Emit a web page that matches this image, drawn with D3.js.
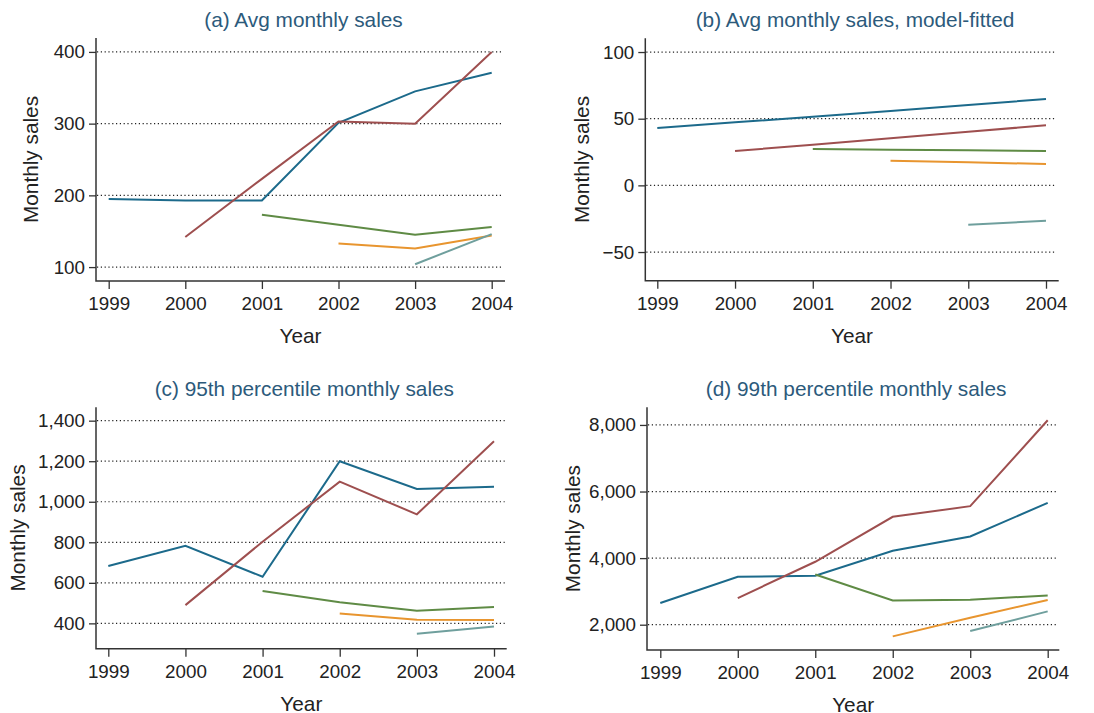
<!DOCTYPE html>
<html>
<head>
<meta charset="utf-8">
<script src="https://cdn.jsdelivr.net/npm/d3@7"></script>
<style>
  body { margin: 0; background: #fff; }
  svg { display: block; font-family: "Liberation Sans", Arial, sans-serif; }
</style>
</head>
<body>
<svg id="chart" width="1094" height="713"></svg>
<script>
const years = [1999, 2000, 2001, 2002, 2003, 2004];
const cohorts = ['1999', '2000', '2001', '2002', '2003'];
const cohortColors = ['#1c6a8b', '#9e4f4f', '#5f8b45', '#e8952f', '#6f9f9d'];

// one array per cohort (entry year), null where the cohort did not exist yet
const avgSales = [
    [195, 193, 193, 301, 345, 371],
    [null, 142, 223, 303, 300, 400],
    [null, null, 173, 159, 145, 156],
    [null, null, null, 133, 126, 144],
    [null, null, null, null, 104, 146]
];
const fittedSales = [
    [43, 47.3, 51.4, 55.8, 60.3, 64.7],
    [null, 25.8, 30.5, 35.4, 40.3, 45],
    [null, null, 27.2, 26.7, 26.3, 25.8],
    [null, null, null, 18.5, 17.3, 16],
    [null, null, null, null, -29.5, -26.6]
];
const p95Sales = [
    [683, 783, 630, 1200, 1063, 1074],
    [null, 490, 803, 1099, 938, 1298],
    [null, null, 560, 504, 462, 481],
    [null, null, null, 449, 418, 416],
    [null, null, null, null, 349, 384]
];
const p99Sales = [
    [2650, 3440, 3470, 4220, 4650, 5660],
    [null, 2800, 3890, 5240, 5560, 8140],
    [null, null, 3510, 2730, 2750, 2880],
    [null, null, null, 1650, 2210, 2740],
    [null, null, null, null, 1810, 2400]
];

const PANELS = [
    {
        title: '(a) Avg monthly sales', series: avgSales,
        yDomain: [80.6, 419.4], yTicks: [100, 200, 300, 400],
        frame: { left: 96, right: 505, top: 38, bottom: 281 },
        xRange: [108.7, 491.7], yLabelX: 32, titleY: 27
    },
    {
        title: '(b) Avg monthly sales, model-fitted', series: fittedSales,
        yDomain: [-71.5, 110.3], yTicks: [-50, 0, 50, 100],
        frame: { left: 645.3, right: 1058.7, top: 38.3, bottom: 280.7 },
        xRange: [657.3, 1046], yLabelX: 583, titleY: 27
    },
    {
        title: '(c) 95th percentile monthly sales', series: p95Sales,
        yDomain: [275, 1466], yTicks: [400, 600, 800, 1000, 1200, 1400],
        frame: { left: 96, right: 506.7, top: 407.3, bottom: 648.7 },
        xRange: [108.3, 494], yLabelX: 19, titleY: 396
    },
    {
        title: '(d) 99th percentile monthly sales', series: p99Sales,
        yDomain: [1240, 8530], yTicks: [2000, 4000, 6000, 8000],
        frame: { left: 647, right: 1059.3, top: 407.3, bottom: 650 },
        xRange: [660.3, 1047.7], yLabelX: 574, titleY: 396
    }
];

const axisColor = '#333';
const textColor = '#222';
const titleColor = '#2c5a7b';
const tickFont = 18.8;
const labelFont = 20.8;

function renderPanel(svg, panel) {
    const { frame } = panel;
    const xScale = d3.scaleLinear().domain([years[0], years[years.length - 1]]).range(panel.xRange);
    const yScale = d3.scaleLinear().domain(panel.yDomain).range([frame.bottom, frame.top]);
    const group = svg.append('g');

    // dotted gridlines
    group.append('g')
        .selectAll('line')
        .data(panel.yTicks)
        .enter()
        .append('line')
        .attr('x1', frame.left + 1)
        .attr('x2', frame.right - 2)
        .attr('y1', (value) => yScale(value))
        .attr('y2', (value) => yScale(value))
        .attr('stroke', '#222')
        .attr('stroke-width', 1.2)
        .attr('stroke-dasharray', '1.2,2.6');

    const fmt = d3.format(',');

    group.append('g')
        .attr('transform', `translate(${frame.left},0)`)
        .call(d3.axisLeft(yScale).tickValues(panel.yTicks).tickFormat((value) => fmt(value).replace('-', '\u2212')).tickSize(7).tickPadding(4))
        .call((axis) => axis.select('.domain').remove())
        .call((axis) => axis.selectAll('line').attr('stroke', axisColor).attr('stroke-width', 1.3))
        .call((axis) => axis.selectAll('text').attr('fill', textColor).attr('font-size', tickFont).attr('font-family', null));

    group.append('g')
        .attr('transform', `translate(0,${frame.bottom})`)
        .call(d3.axisBottom(xScale).tickValues(years).tickFormat(d3.format('d')).tickSize(8).tickPadding(8))
        .call((axis) => axis.select('.domain').remove())
        .call((axis) => axis.selectAll('line').attr('stroke', axisColor).attr('stroke-width', 1.3))
        .call((axis) => axis.selectAll('text').attr('fill', textColor).attr('font-size', tickFont).attr('font-family', null));

    // L-shaped frame
    group.append('path')
        .attr('d', `M${frame.left},${frame.top}V${frame.bottom}H${frame.right}`)
        .attr('fill', 'none')
        .attr('stroke', axisColor)
        .attr('stroke-width', 1.5);

    const line = d3.line()
        .defined((value) => value !== null)
        .x((value, index) => xScale(years[index]))
        .y((value) => yScale(value));

    panel.series.forEach((values, index) => {
        group.append('path')
            .datum(values)
            .attr('d', line)
            .attr('fill', 'none')
            .attr('stroke', cohortColors[index])
            .attr('stroke-width', 2)
            .attr('stroke-linejoin', 'miter');
    });

    const centerX = (frame.left + frame.right) / 2;

    group.append('text')
        .attr('x', centerX + 3)
        .attr('y', panel.titleY)
        .attr('text-anchor', 'middle')
        .attr('fill', titleColor)
        .attr('font-size', labelFont)
        .text(panel.title);

    group.append('text')
        .attr('x', centerX)
        .attr('y', frame.bottom + 62)
        .attr('text-anchor', 'middle')
        .attr('fill', textColor)
        .attr('font-size', labelFont)
        .text('Year');

    group.append('text')
        .attr('transform', `translate(${panel.yLabelX},${(frame.top + frame.bottom) / 2}) rotate(-90)`)
        .attr('text-anchor', 'middle')
        .attr('dominant-baseline', 'middle')
        .attr('fill', textColor)
        .attr('font-size', labelFont)
        .text('Monthly sales');
}

const svg = d3.select('#chart');
PANELS.forEach((panel) => renderPanel(svg, panel));
</script>
</body>
</html>
